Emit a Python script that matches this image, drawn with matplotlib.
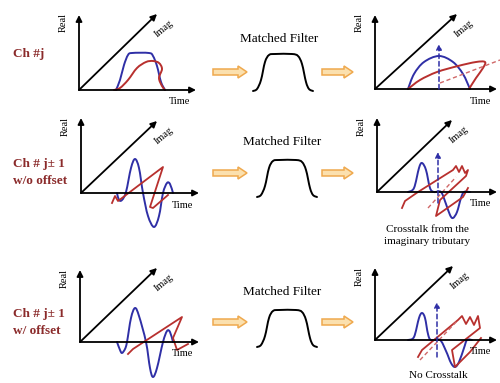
import numpy as np
import matplotlib
matplotlib.use("Agg")
import matplotlib.pyplot as plt
from matplotlib.path import Path
from matplotlib.patches import PathPatch, FancyArrow

plt.rcParams["font.family"] = ["Liberation Serif", "DejaVu Serif"]

BLUE = "#2F2FA6"
RED = "#B8302E"
LABEL_RED = "#8B2B2B"
ARROW_FC = "#FBE0AE"
ARROW_EC = "#EFA94E"

# ===============================
# LAYOUT (pixel coords, y down)
# ===============================
# axes frames: origin, top of real axis, end of time axis, end of imag axis
FRAMES = {
    "r1l": [(79, 90), (79, 15), (196, 90), (157, 14)],
    "r1r": [(375, 89), (375, 15), (497, 89), (457, 14)],
    "r2l": [(81, 193), (81, 118), (199, 193), (157, 121)],
    "r2r": [(377, 192), (377, 118), (497, 192), (452, 120)],
    "r3l": [(80, 342), (80, 270), (199, 342), (157, 268)],
    "r3r": [(375, 340), (375, 268), (497, 340), (453, 266)],
}

ROW_Y = [72, 173, 322]            # orange arrows
FILTER_BASE = [(253, 91), (257, 197), (257, 347)]
FILTER_TITLE = [(279, 39), (282, 142), (282, 292)]

CH_LABELS = [["Ch #j"], ["Ch # j\u00b1 1", "w/o offset"], ["Ch # j\u00b1 1", "w/ offset"]]
CH_Y = [[54], [164, 181], [314, 331]]

# matched filter shape relative to bottom-left
FILTER_SHAPE = [(0, 0), (4, -2), (8, -11), (12, -29), (16, -36), (22, -37),
                (39, -37), (45, -35), (49, -27), (53, -9), (56, -2), (60, 0)]

# ===============================
# WAVEFORMS
# ===============================
r1l_blue = [(116, 90), (120, 80), (124, 65), (128, 55), (132, 53), (149, 53),
            (153, 56), (157, 66), (161, 82), (165, 90)]
r1l_red = [(114, 90), (120, 88), (128, 80), (137, 68), (146, 62), (153, 61),
           (159, 63), (162, 69), (159, 78), (162, 86), (165, 90)]

r1r_blue = [(408, 89), (414, 74), (424, 62), (439, 56), (453, 62), (463, 74), (470, 89)]
r1r_red = [(408, 89), (420, 80), (437, 72), (458, 66), (476, 62), (485, 62),
           (483, 68), (476, 78), (469, 89)]

r2l_blue = [(117, 193), (119, 200), (122, 200), (126, 192), (131, 168), (135, 159),
            (139, 168), (143, 193), (148, 216), (154, 227), (159, 216), (163, 193),
            (167, 183), (170, 184), (173, 193)]
r2l_red = [(112, 203), (115, 196), (118, 201), (122, 198), (163, 167),
           (150, 207), (153, 208), (168, 195)]

r2r_blue = [(408, 192), (414, 188), (419, 168), (422, 163), (426, 170), (430, 188),
            (434, 192), (441, 192), (446, 204), (450, 215), (453, 218), (457, 212),
            (461, 198), (464, 192), (470, 192)]
r2r_red = [(402, 208), (405, 201), (418, 192), (453, 170), (456, 166), (459, 172),
           (462, 166), (465, 173), (468, 170), (466, 176), (440, 200), (436, 216),
           (446, 209), (463, 197), (468, 188)]

r3l_blue = [(117, 342), (120, 350), (122, 353), (125, 349), (127, 342), (131, 318),
            (135, 308), (139, 316), (146, 342), (150, 368), (153, 377), (157, 368),
            (163, 342), (167, 331), (170, 332), (173, 342)]
r3l_red = [(128, 354), (133, 349), (182, 317), (173, 338), (177, 350), (188, 344)]

r3r_blue = [(408, 340), (414, 337), (419, 318), (422, 313), (425, 318), (428, 334),
            (431, 340), (440, 340), (446, 351), (451, 363), (455, 367), (459, 362),
            (464, 348), (467, 340), (472, 340)]
r3r_red = [(418, 357), (422, 350), (458, 320), (462, 316), (466, 324), (470, 317),
           (474, 325), (478, 316), (480, 328), (452, 350), (455, 367), (470, 352),
           (481, 338)]

# dashed markers: (x, y_bottom, y_top) blue sampling lines, red dashed imag lines
BLUE_DASH = [(439, 89, 44), (438, 203, 152), (437, 357, 302)]
RED_DASH = [[(440, 83), (500, 60)], [(428, 208), (456, 177)], [(420, 360), (458, 320)]]

NOTES = [("Crosstalk from the", (427, 229)), ("imaginary tributary", (427, 241)),
         ("No Crosstalk", (438, 376))]


def smooth_path(pts):
    pts = np.asarray(pts, float)
    verts = [pts[0]]
    codes = [Path.MOVETO]
    n = len(pts)
    for i in range(n - 1):
        p0 = pts[i - 1] if i > 0 else pts[i]
        p1, p2 = pts[i], pts[i + 1]
        p3 = pts[i + 2] if i + 2 < n else p2
        verts += [p1 + (p2 - p0) / 6, p2 - (p3 - p1) / 6, p2]
        codes += [Path.CURVE4] * 3
    return Path(verts, codes)


def draw_smooth(ax, pts, color, lw=1.4):
    ax.add_patch(PathPatch(smooth_path(pts), fc="none", ec=color, lw=lw,
                           capstyle="round", joinstyle="round"))


def draw_poly(ax, pts, color, lw=1.3):
    p = np.asarray(pts)
    ax.plot(p[:, 0], p[:, 1], color=color, lw=lw, solid_joinstyle="round")


def arrow(ax, start, end, color="black", lw=1.3, ls="-", ms=9):
    ax.annotate("", xy=end, xytext=start,
                arrowprops=dict(arrowstyle="-|>", color=color, lw=lw, ls=ls,
                                mutation_scale=ms, shrinkA=0, shrinkB=0))


def draw_frame(ax, frame):
    o, top, right, diag = frame
    arrow(ax, o, top)
    arrow(ax, o, right)
    arrow(ax, o, diag)
    ax.text(o[0] - 16, top[1] + 8, "Real", rotation=90, fontsize=7.5,
            ha="center", va="center")
    ax.text(diag[0] + 7, diag[1] + 15, "Imag", rotation=40, fontsize=7.5,
            ha="center", va="center")
    ax.text(right[0] - 16, right[1] + 12, "Time", fontsize=7.5,
            ha="center", va="center")


fig = plt.figure(figsize=(5.0, 3.83), dpi=100)
ax = fig.add_axes([0, 0, 1, 1])
ax.set_xlim(0, 500)
ax.set_ylim(383, 0)
ax.axis("off")

for frame in FRAMES.values():
    draw_frame(ax, frame)

# channel labels
for labels, ys in zip(CH_LABELS, CH_Y):
    for lab, y in zip(labels, ys):
        ax.text(13, y, lab, fontsize=9.5, fontweight="bold", color=LABEL_RED,
                ha="left", va="center")

# orange block arrows + matched filter
for y, base, title in zip(ROW_Y, FILTER_BASE, FILTER_TITLE):
    for x0, x1 in [(213, 247), (322, 353)]:
        ax.add_patch(FancyArrow(x0, y, x1 - x0, 0, width=6, head_width=12,
                                head_length=9, length_includes_head=True,
                                fc=ARROW_FC, ec=ARROW_EC, lw=1.1))
    shape = [(base[0] + dx, base[1] + dy) for dx, dy in FILTER_SHAPE]
    draw_smooth(ax, shape, "black", lw=1.4)
    ax.text(title[0], title[1], "Matched Filter", fontsize=9.5,
            ha="center", va="center")

# waveforms
draw_smooth(ax, r1l_blue, BLUE)
draw_smooth(ax, r1l_red, RED)
draw_smooth(ax, r1r_blue, BLUE)
draw_smooth(ax, r1r_red, RED)
draw_smooth(ax, r2l_blue, BLUE)
draw_poly(ax, r2l_red, RED)
draw_smooth(ax, r2r_blue, BLUE)
draw_poly(ax, r2r_red, RED)
draw_smooth(ax, r3l_blue, BLUE)
draw_poly(ax, r3l_red, RED)
draw_smooth(ax, r3r_blue, BLUE)
draw_poly(ax, r3r_red, RED)

for x, yb, yt in BLUE_DASH:
    arrow(ax, (x, yb), (x, yt), color=BLUE, lw=1.1, ls=(0, (3, 2)), ms=8)
for (p0, p1) in RED_DASH:
    ax.plot([p0[0], p1[0]], [p0[1], p1[1]], color="#D06868", lw=1.0,
            ls=(0, (3, 2)))

for txt, (x, y) in NOTES:
    ax.text(x, y, txt, fontsize=8, ha="center", va="center")

fig.savefig("out.png", dpi=100)
